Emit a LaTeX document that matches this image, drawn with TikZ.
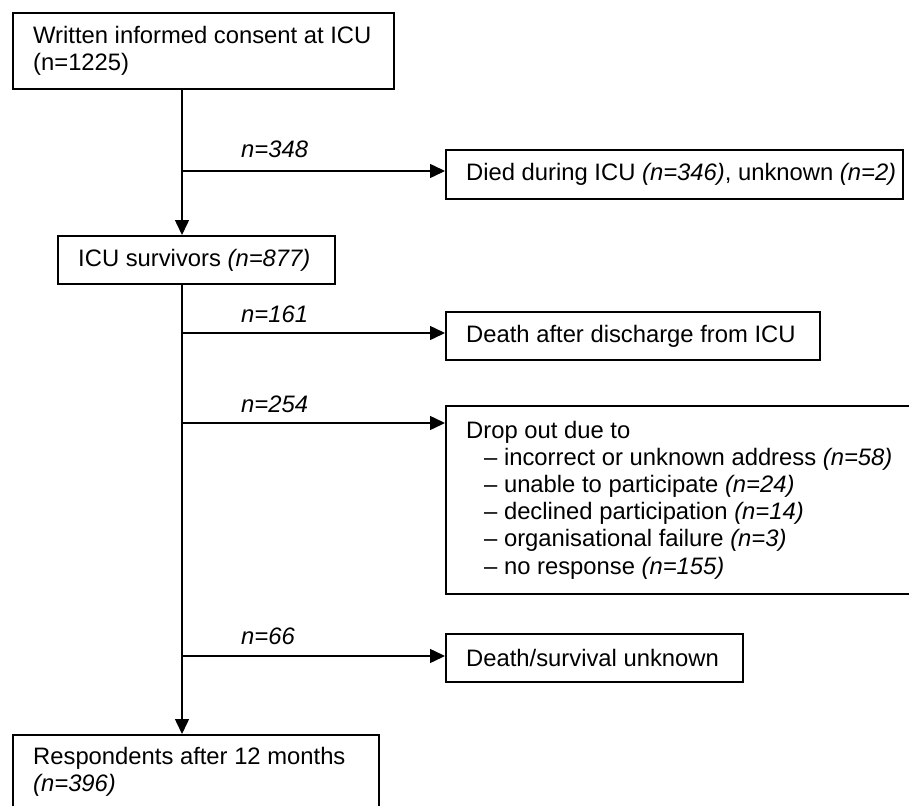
\documentclass[tikz,border=0pt]{standalone}
\usepackage{fontspec}
\setmainfont{Liberation Sans}
\usetikzlibrary{positioning,arrows.meta}

\tikzset{
  box/.style={draw, line width=1.7pt, anchor=north west, inner sep=0pt},
  txt/.style={inner sep=0pt, align=left, font=\fontsize{23.8}{27.2}\selectfont},
  lbl/.style={inner sep=0pt, font=\fontsize{23.8}{27.2}\selectfont\itshape},
  arr/.style={line width=1.5pt, -{Triangle[length=15pt,width=14pt]}}
}

\begin{document}
\begin{tikzpicture}[x=1pt,y=-1pt]
  \useasboundingbox (0,0) rectangle (909,805);
  \clip (0,0) rectangle (909,805);
  % boxes
  \node[box, minimum width=381pt, minimum height=76pt] (b1) at (12,12) {};
  \node[box, minimum width=457pt, minimum height=49pt] (b2) at (445,149) {};
  \node[box, minimum width=277pt, minimum height=48pt] (b3) at (57,235) {};
  \node[box, minimum width=374pt, minimum height=48pt] (b4) at (445,311) {};
  \node[box, minimum width=480pt, minimum height=188pt] (b5) at (445,405) {};
  \node[box, minimum width=297pt, minimum height=48pt] (b6) at (445,633) {};
  \node[box, minimum width=366pt, minimum height=74pt] (b7) at (12,734) {};
  % texts
  \node[txt, right=21pt of b1.west] (t1) {Written informed consent at ICU\\(n=1225)};
  \node[txt, right=21pt of b2.west] (t2) {Died during ICU \textit{(n=346)}, unknown \textit{(n=2)}};
  \node[txt, right=21pt of b3.west] (t3) {ICU survivors \textit{(n=877)}};
  \node[txt, right=21pt of b4.west] (t4) {Death after discharge from ICU};
  \node[txt, right=21pt of b5.west] (t5) {Drop out due to\\
    \hspace*{18pt}\textendash{} incorrect or unknown address \textit{(n=58)}\\
    \hspace*{18pt}\textendash{} unable to participate \textit{(n=24)}\\
    \hspace*{18pt}\textendash{} declined participation \textit{(n=14)}\\
    \hspace*{18pt}\textendash{} organisational failure \textit{(n=3)}\\
    \hspace*{18pt}\textendash{} no response \textit{(n=155)}};
  \node[txt, right=21pt of b6.west] (t6) {Death/survival unknown};
  \node[txt, right=21pt of b7.west] (t7) {Respondents after 12 months\\\textit{(n=396)}};
  % main line and side arrows
  \coordinate (spine) at (182,0);
  \coordinate (s1) at (182,171);
  \coordinate (s2) at (182,333);
  \coordinate (s3) at (182,423);
  \coordinate (s4) at (182,656);
  \draw[arr] (b1.south -| spine) -- (b3.north -| spine);
  \draw[arr] (b3.south -| spine) -- (b7.north -| spine);
  \draw[arr] (s1) -- (s1 -| b2.west);
  \draw[arr] (s2) -- (s2 -| b4.west);
  \draw[arr] (s3) -- (s3 -| b5.west);
  \draw[arr] (s4) -- (s4 -| b6.west);
  \node[lbl, above right=13pt and 59pt of s1] (n1) {n=348};
  \node[lbl, above right=10pt and 59pt of s2] (n2) {n=161};
  \node[lbl, above right=10pt and 59pt of s3] (n3) {n=254};
  \node[lbl, above right=11pt and 59pt of s4] (n4) {n=66};
\end{tikzpicture}
\end{document}
